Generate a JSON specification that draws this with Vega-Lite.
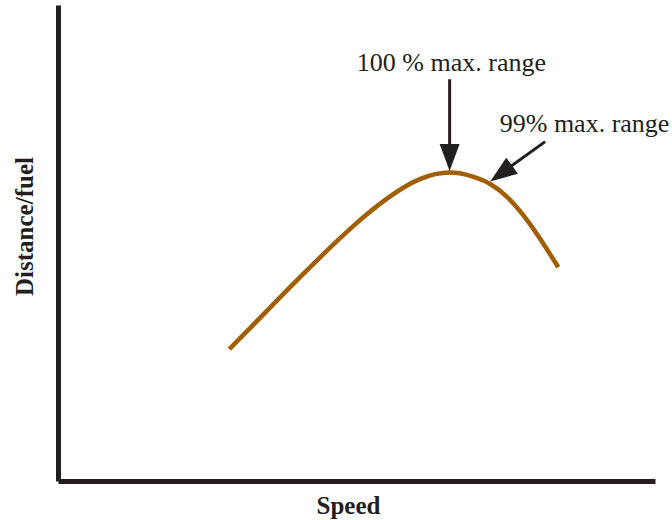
{
  "$schema": "https://vega.github.io/schema/vega-lite/v6.json",
  "autosize": "none",
  "width": 597,
  "height": 476,
  "padding": {"left": 58, "top": 5, "right": 17, "bottom": 39},
  "background": "white",
  "config": {"view": {"stroke": null}, "font": "Liberation Serif"},
  "datasets": {
    "curve": [
      {"speed": 28.7, "dist": 27.7},
      {"speed": 32.7, "dist": 32.8},
      {"speed": 38.3, "dist": 40.0},
      {"speed": 43.9, "dist": 47.0},
      {"speed": 49.5, "dist": 53.6},
      {"speed": 55.1, "dist": 59.3},
      {"speed": 60.6, "dist": 63.4},
      {"speed": 65.7, "dist": 64.8},
      {"speed": 69.6, "dist": 63.9},
      {"speed": 72.4, "dist": 62.4},
      {"speed": 75.2, "dist": 59.7},
      {"speed": 77.9, "dist": 55.9},
      {"speed": 80.7, "dist": 51.0},
      {"speed": 83.8, "dist": 44.9}
    ],
    "arrows": [
      {"id": "a100", "x": 65.6, "y": 84.4, "x2": 65.6, "y2": 67.4, "tipx": 65.6, "tipy": 65.1},
      {"id": "a99", "x": 81.6, "y": 71.3, "x2": 74.1, "y2": 64.5, "tipx": 72.4, "tipy": 62.9}
    ],
    "labels": [
      {"label": "100 % max. range", "x": 65.9, "y": 86.2},
      {"label": "99% max. range", "x": 88.2, "y": 73.4}
    ]
  },
  "layer": [
    {
      "data": {"name": "curve"},
      "mark": {"type": "line", "color": "#a05f05", "strokeWidth": 4.6, "interpolate": "natural"},
      "encoding": {
        "x": {"field": "speed", "type": "quantitative", "scale": {"domain": [0, 100], "nice": false, "zero": false},
          "axis": {"title": "Speed", "labels": false, "ticks": false, "grid": false, "domainWidth": 5, "domainColor": "#231f20",
            "titleFont": "Liberation Serif", "titleFontSize": 25, "titleFontWeight": "bold", "titleColor": "#231f20",
            "titleX": 290, "titleY": 32, "titleBaseline": "alphabetic", "titleAlign": "center"}},
        "y": {"field": "dist", "type": "quantitative", "scale": {"domain": [0, 100], "nice": false, "zero": false},
          "axis": {"title": "Distance/fuel", "labels": false, "ticks": false, "grid": false, "domainWidth": 5, "domainColor": "#231f20",
            "titleFont": "Liberation Serif", "titleFontSize": 25, "titleFontWeight": "bold", "titleColor": "#231f20",
            "titleX": -26, "titleY": 221, "titleAngle": -90, "titleBaseline": "alphabetic", "titleAlign": "center"}},
        "order": {"field": "speed", "type": "quantitative"}
      }
    },
    {
      "data": {"name": "arrows"},
      "mark": {"type": "rule", "color": "#231f20", "strokeWidth": 3},
      "encoding": {
        "x": {"field": "x", "type": "quantitative"},
        "y": {"field": "y", "type": "quantitative"},
        "x2": {"field": "x2"},
        "y2": {"field": "y2"}
      }
    },
    {
      "data": {"name": "arrows"},
      "transform": [{"filter": "datum.id === 'a100'"}],
      "mark": {"type": "point", "shape": "M0,0 L-0.74,-2 L0.74,-2 Z", "size": 729, "filled": true, "color": "#231f20", "opacity": 1, "strokeWidth": 0, "angle": 0},
      "encoding": {
        "x": {"field": "tipx", "type": "quantitative"},
        "y": {"field": "tipy", "type": "quantitative"}
      }
    },
    {
      "data": {"name": "arrows"},
      "transform": [{"filter": "datum.id === 'a99'"}],
      "mark": {"type": "point", "shape": "M0,0 L-0.74,-2 L0.74,-2 Z", "size": 729, "filled": true, "color": "#231f20", "opacity": 1, "strokeWidth": 0, "angle": 54},
      "encoding": {
        "x": {"field": "tipx", "type": "quantitative"},
        "y": {"field": "tipy", "type": "quantitative"}
      }
    },
    {
      "data": {"name": "labels"},
      "mark": {"type": "text", "font": "Liberation Serif", "fontSize": 26, "color": "#231f20", "align": "center", "baseline": "alphabetic"},
      "encoding": {
        "x": {"field": "x", "type": "quantitative"},
        "y": {"field": "y", "type": "quantitative"},
        "text": {"field": "label"}
      }
    }
  ]
}
